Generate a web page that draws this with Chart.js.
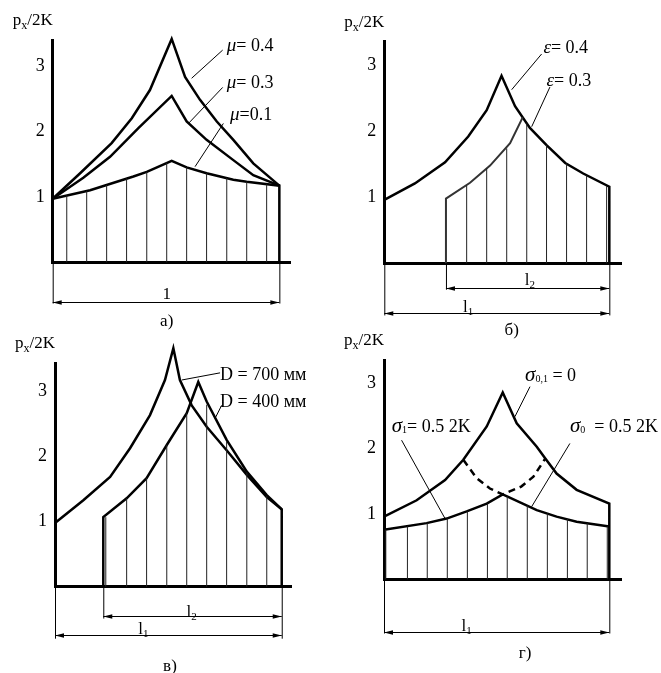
<!DOCTYPE html>
<html>
<head>
<meta charset="utf-8">
<script src="https://cdn.jsdelivr.net/npm/chart.js@4.4.1/dist/chart.umd.min.js"></script>
<style>
  body { margin: 0; background: #fff; }
  #page { position: relative; width: 661px; height: 673px; }
  canvas { position: absolute; }
</style>
</head>
<body>
<div id="page">
  <canvas id="pa" width="330" height="340" style="left:0;top:0"></canvas>
  <canvas id="pb" width="331" height="340" style="left:330px;top:0"></canvas>
  <canvas id="pc" width="330" height="343" style="left:0;top:330px"></canvas>
  <canvas id="pd" width="331" height="343" style="left:330px;top:330px"></canvas>
</div>
<script>
// x is given in % of the length l, y in px/2K

// а) friction coefficient mu
const aX04 = [0, 12.1, 26, 34.9, 42.9, 52.5, 58.4, 65, 72.4, 79.7, 88.5, 100];
const aMu04 = [0.97, 1.36, 1.82, 2.2, 2.63, 3.41, 2.83, 2.48, 2.15, 1.87, 1.51, 1.17];
const aX03 = [0, 13.5, 25.3, 37.8, 52.5, 59.1, 67.9, 79.7, 88.5, 100];
const aMu03 = [0.97, 1.29, 1.61, 2.05, 2.54, 2.15, 1.87, 1.56, 1.33, 1.17];
const aX01 = [0, 16.5, 35.6, 41.5, 52.5, 59.1, 67.9, 79.7, 85.6, 100, 100];
const aMu01 = [0.97, 1.10, 1.31, 1.38, 1.55, 1.45, 1.36, 1.26, 1.23, 1.17, 0];
const aHatchX = [6.2, 15, 23.8, 32.6, 41.5, 50.3, 59.1, 67.9, 76.8, 85.6, 94.4];
const aHatchY = [1.02, 1.09, 1.18, 1.28, 1.38, 1.52, 1.45, 1.36, 1.29, 1.23, 1.19];

// б) epsilon
const bX04 = [0, 13.6, 27, 37.3, 45.5, 52.1, 58.1, 64.7, 72.1, 80.4, 88.4, 100, 100];
const bEps04 = [0.96, 1.21, 1.53, 1.92, 2.32, 2.84, 2.38, 2.05, 1.79, 1.52, 1.36, 1.16, 0];
const bX03 = [27.4, 27.4, 38.1, 47, 55.9, 61.5];
const bEps03 = [0, 0.98, 1.22, 1.48, 1.82, 2.21];
const bHatchX = [36.6, 45.5, 54.4, 63.3, 72.1, 81.0, 89.9, 98.8];
const bHatchY = [1.18, 1.44, 1.74, 2.12, 1.79, 1.51, 1.33, 1.17];

// в) diameter D
const cX700 = [0, 12.5, 24.3, 33.1, 41.9, 48.5, 52.2, 55.1, 60.3, 66.9, 75.7, 84.6, 93.4, 100];
const cD700 = [0.98, 1.33, 1.69, 2.13, 2.64, 3.18, 3.67, 3.18, 2.79, 2.46, 2.1, 1.72, 1.38, 1.19];
const cX400 = [21.3, 21.3, 31.6, 40.4, 49.3, 58.1, 63.2, 66.9, 75.7, 84.6, 93.4, 100, 100];
const cD400 = [0, 1.07, 1.36, 1.67, 2.18, 2.67, 3.15, 2.85, 2.26, 1.77, 1.41, 1.19, 0];
const cHatchX = [22.4, 31.6, 40.4, 49.3, 58.1, 66.9, 75.7, 84.6, 93.4];
const cHatchY = [1.07, 1.36, 1.67, 2.18, 2.67, 2.8, 2.24, 1.76, 1.4];

// г) back / front tension sigma
const dXTop = [0, 14.5, 27.1, 35.2, 45.6, 52.7, 58.9, 67.8, 71.6, 76.6, 85.5, 100, 100];
const dTop = [0.96, 1.21, 1.52, 1.83, 2.34, 2.86, 2.39, 2.03, 1.85, 1.62, 1.37, 1.16, 0];
const dXLow = [0, 18.9, 27.8, 36.7, 45.6, 52.7, 67.8, 76.6, 85.5, 100];
const dLow = [0.76, 0.86, 0.93, 1.04, 1.16, 1.3, 1.06, 0.96, 0.88, 0.81];
const dXDash = [35.2, 41.1, 47, 52.7, 60.9, 66.3, 71.6];
const dDash = [1.83, 1.55, 1.39, 1.3, 1.42, 1.57, 1.85];
const dHatchX = [0.8, 10.4, 19.2, 28.1, 37, 45.9, 54.7, 63.6, 72.5, 81.4, 90.2, 99.1];
const dHatchY = [0.76, 0.81, 0.86, 0.93, 1.04, 1.16, 1.27, 1.13, 1.01, 0.93, 0.86, 0.81];

const yTicks = [1, 2, 3];

const SERIF = '"Liberation Serif", "Times New Roman", serif';
const F = `17px ${SERIF}`;
const FL = `18px ${SERIF}`;
const FI = `italic 19px ${SERIF}`;
const FS = `11px ${SERIF}`;

function pts(xs, ys) {
  return xs.map((x, i) => ({ x: x, y: ys[i] }));
}
function hatchPts(xs, ys) {
  return xs.flatMap((x, i) => [{ x: x, y: 0 }, { x: x, y: ys[i] }, { x: x, y: null }]);
}
function curve(xs, ys, extra) {
  return Object.assign({
    data: pts(xs, ys), borderColor: '#000', borderWidth: 2.5, pointRadius: 0,
    tension: 0, clip: false, fill: false, borderJoinStyle: 'miter'
  }, extra || {});
}
function hatch(xs, ys) {
  return { data: hatchPts(xs, ys), borderColor: '#222', borderWidth: 1, pointRadius: 0,
    spanGaps: false, clip: false, fill: false };
}

// draw a row of text runs (different fonts), y = baseline
function drawRuns(ctx, x, y, runs, center) {
  ctx.textBaseline = 'alphabetic';
  ctx.textAlign = 'left';
  let w = 0;
  runs.forEach(r => { ctx.font = r.f; w += ctx.measureText(r.t).width; });
  let cx = center ? x - w / 2 : x;
  runs.forEach(r => {
    ctx.font = r.f;
    ctx.fillText(r.t, cx, y + (r.dy || 0));
    cx += ctx.measureText(r.t).width;
  });
}

function notesPlugin(n) {
  return {
    id: 'notes',
    afterDatasetsDraw(chart) {
      const ctx = chart.ctx, xs = chart.scales.x, ys = chart.scales.y, ca = chart.chartArea;
      const px = v => xs.getPixelForValue(v), py = v => ys.getPixelForValue(v);
      ctx.save();
      ctx.fillStyle = '#000';
      ctx.strokeStyle = '#000';
      // axis title
      drawRuns(ctx, ca.left - 40, ca.top - 15,
        [{ t: 'p', f: F }, { t: 'x', f: `12px ${SERIF}`, dy: 4 }, { t: '/2K', f: F }]);
      // leader lines
      ctx.lineWidth = 1;
      n.leaders.forEach(l => {
        ctx.beginPath();
        ctx.moveTo(px(l[0]), py(l[1]));
        ctx.lineTo(px(l[2]), py(l[3]));
        ctx.stroke();
      });
      // extension lines
      n.exts.forEach(e => {
        ctx.beginPath();
        ctx.moveTo(px(e[0]) + 0.5, py(0));
        ctx.lineTo(px(e[0]) + 0.5, py(e[1]));
        ctx.stroke();
      });
      // dimension lines with arrows
      n.dims.forEach(d => {
        const x1 = px(d[0]), x2 = px(d[1]), y = Math.round(py(d[2])) + 0.5;
        ctx.beginPath();
        ctx.moveTo(x1, y);
        ctx.lineTo(x2, y);
        ctx.stroke();
        ctx.beginPath();
        ctx.moveTo(x1, y); ctx.lineTo(x1 + 9, y - 2.3); ctx.lineTo(x1 + 9, y + 2.3); ctx.closePath();
        ctx.moveTo(x2, y); ctx.lineTo(x2 - 9, y - 2.3); ctx.lineTo(x2 - 9, y + 2.3); ctx.closePath();
        ctx.fill();
      });
      // texts
      n.labels.forEach(t => drawRuns(ctx, px(t.x), py(t.y) + 6, t.runs, t.center));
      ctx.restore();
    }
  };
}

function makePanel(id, box, xMax, yMax, datasets, notes) {
  const cv = document.getElementById(id);
  const W = cv.width, H = cv.height;
  new Chart(cv, {
    type: 'line',
    data: { datasets: datasets },
    options: {
      responsive: false,
      animation: false,
      events: [],
      layout: { padding: { left: box.l - 40, top: box.t, right: W - box.r, bottom: H - box.b } },
      plugins: { legend: { display: false }, tooltip: { enabled: false } },
      scales: {
        x: {
          type: 'linear', min: 0, max: xMax,
          grid: { display: false, drawTicks: false },
          ticks: { display: false },
          border: { color: '#000', width: 3 },
          afterFit: s => { s.height = 0; }
        },
        y: {
          type: 'linear', min: 0, max: yMax,
          grid: { display: false, drawTicks: false },
          border: { color: '#000', width: 3 },
          ticks: { color: '#000', padding: 8, font: { family: SERIF, size: 18 } },
          afterBuildTicks: s => { s.ticks = yTicks.map(v => ({ value: v })); },
          afterFit: s => { s.width = 40; }
        }
      }
    },
    plugins: [notesPlugin(notes)]
  });
}

const mu = v => [{ t: 'μ', f: FI }, { t: v, f: FL }];
const eps = v => [{ t: 'ε', f: FI }, { t: v, f: FL }];
const sub = (a, b) => [{ t: a, f: F }, { t: b, f: FS, dy: 3 }];

// а)
makePanel('pa', { l: 52.7, r: 290, t: 40, b: 262.3 }, 104.7, 3.394, [
  hatch(aHatchX, aHatchY),
  curve(aX04, aMu04), curve(aX03, aMu03), curve(aX01, aMu01)
], {
  leaders: [[61.3, 2.81, 75, 3.24], [59.9, 2.12, 75, 2.67], [62.8, 1.46, 75.3, 2.12]],
  exts: [[0, -0.63], [100, -0.63]],
  dims: [[0, 100, -0.6]],
  labels: [
    { x: 76.8, y: 3.32, runs: mu('= 0.4') },
    { x: 76.8, y: 2.76, runs: mu('= 0.3') },
    { x: 78.2, y: 2.27, runs: mu('=0.1') },
    { x: 50.3, y: -0.47, runs: [{ t: '1', f: F }], center: true },
    { x: 50.3, y: -0.88, runs: [{ t: 'а)', f: F }], center: true }
  ]
});

// б)
makePanel('pb', { l: 54.3, r: 291.7, t: 41.7, b: 263.3 }, 105.5, 3.357, [
  hatch(bHatchX, bHatchY),
  curve(bX03, bEps03, { borderColor: '#333', borderWidth: 2 }),
  curve(bX04, bEps04)
], {
  leaders: [[56.6, 2.63, 69.9, 3.17], [65.5, 2.07, 73.6, 2.67]],
  exts: [[0, -0.79], [27.4, -0.4], [100, -0.79]],
  dims: [[27.4, 100, -0.37], [0, 100, -0.76]],
  labels: [
    { x: 70.7, y: 3.28, runs: eps('= 0.4') },
    { x: 72.1, y: 2.78, runs: eps('= 0.3') },
    { x: 64.7, y: -0.24, runs: sub('l', '2'), center: true },
    { x: 37.3, y: -0.64, runs: sub('l', '1'), center: true },
    { x: 56.6, y: -1.0, runs: [{ t: 'б)', f: F }], center: true }
  ]
});

// в)
makePanel('pc', { l: 55, r: 291.7, t: 33.3, b: 256.7 }, 104.4, 3.437, [
  hatch(cHatchX, cHatchY),
  curve(cX700, cD700), curve(cX400, cD400)
], {
  leaders: [[55.9, 3.18, 72.8, 3.29], [70.6, 2.59, 73.5, 2.79]],
  exts: [[0, -0.8], [21.3, -0.49], [100, -0.8]],
  dims: [[21.3, 100, -0.45], [0, 100, -0.74]],
  labels: [
    { x: 72.8, y: 3.28, runs: [{ t: 'D = 700 мм', f: FL }] },
    { x: 72.8, y: 2.85, runs: [{ t: 'D = 400 мм', f: FL }] },
    { x: 60.3, y: -0.38, runs: sub('l', '2'), center: true },
    { x: 39, y: -0.64, runs: sub('l', '1'), center: true },
    { x: 50.7, y: -1.2, runs: [{ t: 'в)', f: F }], center: true }
  ]
});

// г)
const sig = (s, rest) => [{ t: 'σ', f: `italic 21px ${SERIF}` }, { t: s, f: `10px ${SERIF}`, dy: 1 }, { t: rest, f: FL }];
makePanel('pd', { l: 54, r: 291.7, t: 30, b: 249.3 }, 105.5, 3.358, [
  hatch(dHatchX, dHatchY),
  curve(dXLow, dLow), curve(dXTop, dTop),
  curve(dXDash, dDash, { borderDash: [7, 5] })
], {
  leaders: [[58.1, 2.49, 64.8, 2.95], [7.8, 2.13, 27.1, 0.93], [82.5, 2.08, 65.5, 1.11]],
  exts: [[0, -0.83], [100, -0.83]],
  dims: [[0, 100, -0.8]],
  labels: [
    { x: 62.6, y: 3.13, runs: sig('0,1', ' = 0') },
    { x: 3.4, y: 2.34, runs: sig('1', '= 0.5 2K') },
    { x: 82.5, y: 2.34, runs: sig('0', '  = 0.5 2K') },
    { x: 36.7, y: -0.7, runs: sub('l', '1'), center: true },
    { x: 62.6, y: -1.11, runs: [{ t: 'г)', f: F }], center: true }
  ]
});
</script>
</body>
</html>
